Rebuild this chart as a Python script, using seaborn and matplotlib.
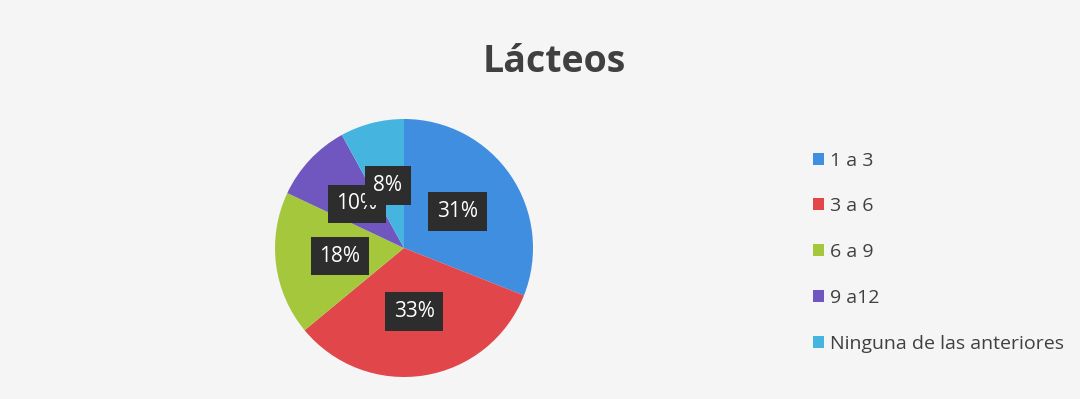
import matplotlib
matplotlib.use("Agg")
import matplotlib.pyplot as plt
import seaborn as sns
from matplotlib.patches import Patch

categories = ["1 a 3", "3 a 6", "6 a 9", "9 a12", "Ninguna de las anteriores"]
values = [31, 33, 18, 10, 8]
pct_labels = ["31%", "33%", "18%", "10%", "8%"]
title = "Lácteos"

sns.set_style("white")
plt.rcParams['font.family'] = ['Open Sans', 'DejaVu Sans']

palette = sns.color_palette(["#3f8ee0", "#e0464a", "#a5c73c", "#7057c0", "#45b5e0"])

W, H = 1080, 399
fig = plt.figure(figsize=(W / 100, H / 100), dpi=100)
fig.patch.set_facecolor("#f5f5f5")

cx, cy, r = 404, 248, 129
ax = fig.add_axes([(cx - r) / W, (H - cy - r) / H, 2 * r / W, 2 * r / H])
ax.set_facecolor("none")

wedges, texts, autotexts = ax.pie(
    values, colors=palette, startangle=90, counterclock=False,
    autopct=lambda p: "", pctdistance=0.5, radius=1,
    wedgeprops=dict(linewidth=0))
for t, lab in zip(autotexts, pct_labels):
    t.set_text(lab)
    t.set_color("white")
    t.set_fontsize(15)
    t.set_bbox(dict(boxstyle="square,pad=0.42", fc="#2d2d2d", ec="none"))
ax.set_xlim(-1, 1)
ax.set_ylim(-1, 1)
ax.set_aspect("equal")
ax.axis("off")

fig.text(554 / W, 1 - 62 / H, title, ha="center", va="center",
         fontsize=27, fontweight="bold", color="#404040")

handles = [Patch(facecolor=c, edgecolor="none") for c in palette]
leg = fig.legend(handles, categories, loc="upper left",
                 bbox_to_anchor=(795 / W, 1 - 134 / H), frameon=False,
                 fontsize=14, labelspacing=1.43, handlelength=0.58,
                 handleheight=0.58, handletextpad=0.3, labelcolor="#404040")

fig.savefig("out.png", dpi=100, facecolor=fig.get_facecolor())
